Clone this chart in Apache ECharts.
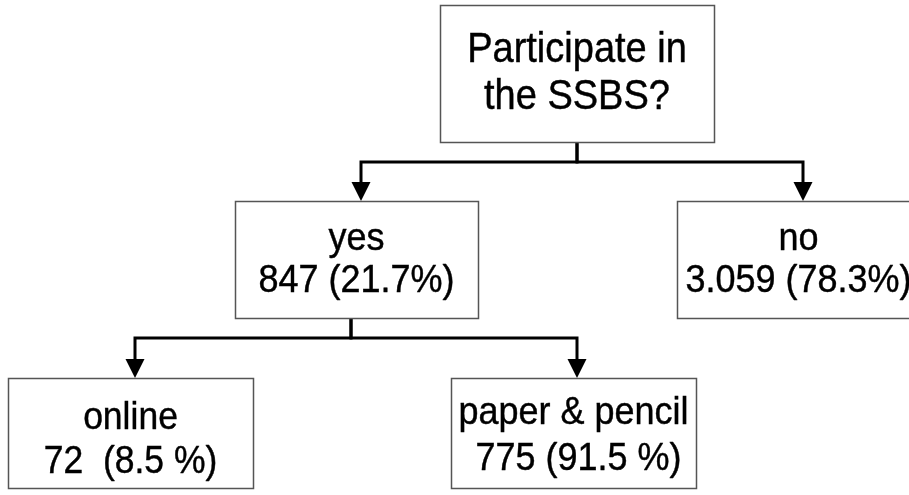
<!DOCTYPE html>
<html>
<head>
<meta charset="utf-8">
<script src="https://cdn.jsdelivr.net/npm/echarts@6/dist/echarts.min.js"></script>
<style>
html,body{margin:0;padding:0;background:#fff;}
#chart{width:909px;height:495px;}
</style>
</head>
<body>
<div id="chart"></div>
<script>
// ---- data ----
const nodeKeys = ['root', 'yes', 'no', 'online', 'paper'];
const nodeTitles = ['Participate in', 'yes', 'no', 'online', 'paper & pencil'];
const nodeSubtitles = ['the SSBS?', '847 (21.7%)', '3.059 (78.3%)', '72  (8.5 %)', ' 775 (91.5 %)'];
const edgeParents = ['root', 'root', 'yes', 'yes'];
const edgeChildren = ['yes', 'no', 'online', 'paper'];

// ---- layout (pixel space of the hidden axes) ----
const layout = {
  root:   {x0: 440, y0: 5,   x1: 714, y1: 142, font: 38, lh: 43, ty: 74,  stemX: 577, busY: 162},
  yes:    {x0: 235, y0: 201, x1: 478, y1: 318, font: 36, lh: 38, ty: 260, stemX: 351, busY: 338, arrowX: 361},
  no:     {x0: 677, y0: 201, x1: 920, y1: 318, font: 36, lh: 38, ty: 260, arrowX: 803},
  online: {x0: 8,   y0: 378, x1: 253, y1: 488, font: 35.5, lh: 40, ty: 440, arrowX: 135},
  paper:  {x0: 451, y0: 378, x1: 696, y1: 488, font: 36, lh: 42, ty: 436, arrowX: 577}
};
const arrowW = 19, arrowH = 19;
const textScaleY = 1.1;

const chart = echarts.init(document.getElementById('chart'), null, {renderer: 'canvas'});

const option = {
  animation: false,
  backgroundColor: '#ffffff',
  grid: {left: 0, right: 0, top: 0, bottom: 0},
  xAxis: {type: 'value', min: 0, max: 909, show: false},
  yAxis: {type: 'value', min: 0, max: 495, inverse: true, show: false},
  series: [
    {
      type: 'custom',
      name: 'connectors',
      coordinateSystem: 'cartesian2d',
      data: edgeParents.map((p, i) => [i]),
      renderItem: function (params, api) {
        const i = api.value(0);
        const P = layout[edgeParents[i]];
        const C = layout[edgeChildren[i]];
        const pts = [
          [P.stemX, P.y1], [P.stemX, P.busY], [C.arrowX, P.busY], [C.arrowX, C.y0 - arrowH + 2]
        ].map(p => api.coord(p));
        const tip = api.coord([C.arrowX, C.y0]);
        const l = api.coord([C.arrowX - arrowW / 2, C.y0 - arrowH]);
        const r = api.coord([C.arrowX + arrowW / 2, C.y0 - arrowH]);
        return {
          type: 'group',
          children: [
            {type: 'polyline', shape: {points: pts},
             style: {stroke: '#000', lineWidth: 3, fill: null, lineJoin: 'miter', lineCap: 'butt'}},
            {type: 'polygon', shape: {points: [l, r, tip]}, style: {fill: '#000'}}
          ]
        };
      }
    },
    {
      type: 'custom',
      name: 'boxes',
      coordinateSystem: 'cartesian2d',
      data: nodeKeys.map((k, i) => [i]),
      renderItem: function (params, api) {
        const i = api.value(0);
        const L = layout[nodeKeys[i]];
        const p0 = api.coord([L.x0, L.y0]);
        const p1 = api.coord([L.x1, L.y1]);
        const c = api.coord([(L.x0 + L.x1) / 2, L.ty]);
        return {
          type: 'group',
          children: [
            {type: 'rect', shape: {x: p0[0] + 0.5, y: p0[1] + 0.5, width: p1[0] - p0[0], height: p1[1] - p0[1]},
             style: {fill: '#fff', stroke: '#555', lineWidth: 1.5}},
            {type: 'text', x: c[0], y: c[1], scaleY: textScaleY,
             style: {text: nodeTitles[i] + '\n' + nodeSubtitles[i], fill: '#000',
                     stroke: '#000', lineWidth: 0.4,
                     fontFamily: 'Liberation Sans, Arial, sans-serif', fontSize: L.font,
                     lineHeight: L.lh, align: 'center', verticalAlign: 'middle'}}
          ]
        };
      }
    }
  ]
};
chart.setOption(option);
</script>
</body>
</html>
